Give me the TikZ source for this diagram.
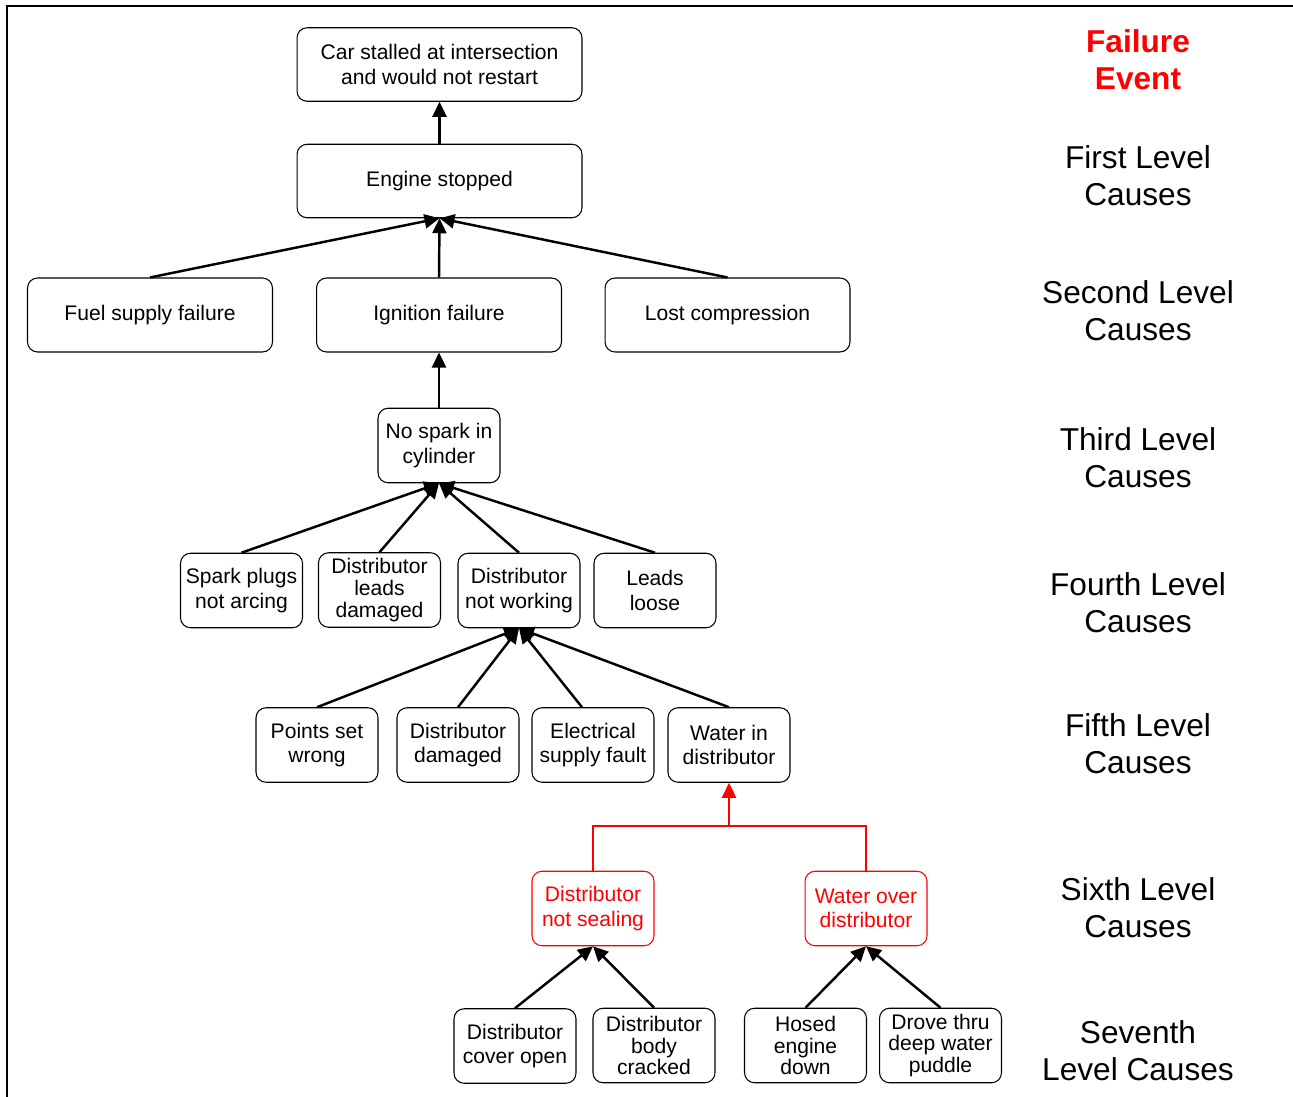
\documentclass[tikz,border=0pt]{standalone}
\usepackage{fontspec}
\setmainfont{Liberation Sans}
\usepackage{xcolor}
\usetikzlibrary{arrows.meta,positioning}
\definecolor{fered}{RGB}{255,0,0}

\begin{document}
\begin{tikzpicture}[
  x=0.02cm, y=-0.02cm,
  font=\fontsize{12}{14}\selectfont,
  cause/.style={draw, rounded corners=0.2cm, line width=0.6pt, align=center, inner sep=2pt},
  wide/.style={cause, minimum width=5.7cm, minimum height=1.47cm},
  mid/.style={cause, minimum width=4.9cm, minimum height=1.48cm},
  small/.style={cause, minimum width=2.44cm, minimum height=1.49cm},
  tight/.style={font=\fontsize{12}{12.4}\selectfont},
  redbox/.style={small, draw=fered, text=fered},
  lvl/.style={align=center, font=\fontsize{18}{21}\selectfont},
  link/.style={draw, line width=1.4pt, -{Triangle[length=0.3cm, width=0.28cm]}},
]
\useasboundingbox (0,0) rectangle (1293,1097);
\draw[line width=1.1pt] (7,1097) -- (7,6) -- (1293,6);

% tree
\node[wide] (stall) at (439.5,64.5) {Car stalled at intersection\\and would not restart};
\node[wide] (engine) at (439.5,181) {Engine stopped};

\node[mid] (fuel) at (150,315) {Fuel supply failure};
\node[mid] (ign) at (439,315) {Ignition failure};
\node[mid] (comp) at (727.5,315) {Lost compression};

\node[small] (spark) at (439,445.5) {No spark in\\cylinder};

\node[small] (plugs) at (241.5,590.5) {Spark plugs\\not arcing};
\node[small, tight] (leads) at (379.5,590) {Distributor\\leads\\damaged};
\node[small] (distnw) at (519,590.5) {Distributor\\not working};
\node[small] (loose) at (655,590.5) {Leads\\loose};

\node[small] (points) at (317,745) {Points set\\wrong};
\node[small] (distdam) at (458,745) {Distributor\\damaged};
\node[small] (elec) at (593,745) {Electrical\\supply fault};
\node[small] (water) at (729,745) {Water in\\distributor};

\node[redbox] (seal) at (593,908.5) {Distributor\\not sealing};
\node[redbox] (over) at (866,908.5) {Water over\\distributor};

\node[small] (cover) at (515,1046) {Distributor\\cover open};
\node[small, tight] (body) at (654,1045.5) {Distributor\\body\\cracked};
\node[small, tight] (hosed) at (805.5,1045.5) {Hosed\\engine\\down};
\node[small, tight] (puddle) at (940.5,1045.5) {Drove thru\\deep water\\puddle};

% level labels
\node[lvl, text=fered, font=\fontsize{18}{21}\selectfont\bfseries] (l0) at (1138,59.5) {Failure\\Event};
\node[lvl] (l1) at (1138,176) {First Level\\Causes};
\node[lvl] (l2) at (1138,311) {Second Level\\Causes};
\node[lvl] (l3) at (1138,458) {Third Level\\Causes};
\node[lvl] (l4) at (1138,603) {Fourth Level\\Causes};
\node[lvl] (l5) at (1138,744) {Fifth Level\\Causes};
\node[lvl] (l6) at (1138,908) {Sixth Level\\Causes};
\node[lvl] (l7) at (1138,1051) {Seventh\\Level Causes};

% connectors
\path[link] (engine.north) -- (stall.south);
\foreach \c in {fuel,ign,comp}
  \path[link] (\c.north) -- (engine.south);
\path[link] (ign.north |- spark.north) -- (ign.south);
\foreach \c in {plugs,leads,distnw,loose}
  \path[link] (\c.north) -- (spark.south);
\foreach \c in {points,distdam,water}
  \path[link] (\c.north) -- (distnw.south);
\path[link] ([xshift=-0.22cm]elec.north) -- (distnw.south);
\foreach \c in {cover,body}
  \path[link] (\c.north) -- (seal.south);
\foreach \c in {hosed,puddle}
  \path[link] (\c.north) -- (over.south);

\coordinate (join) at (729,826);
\draw[fered, line width=1.4pt] (seal.north) |- (join) -| (over.north);
\path[link, draw=fered, fill=fered] (join) -- (water.south);
\end{tikzpicture}
\end{document}
